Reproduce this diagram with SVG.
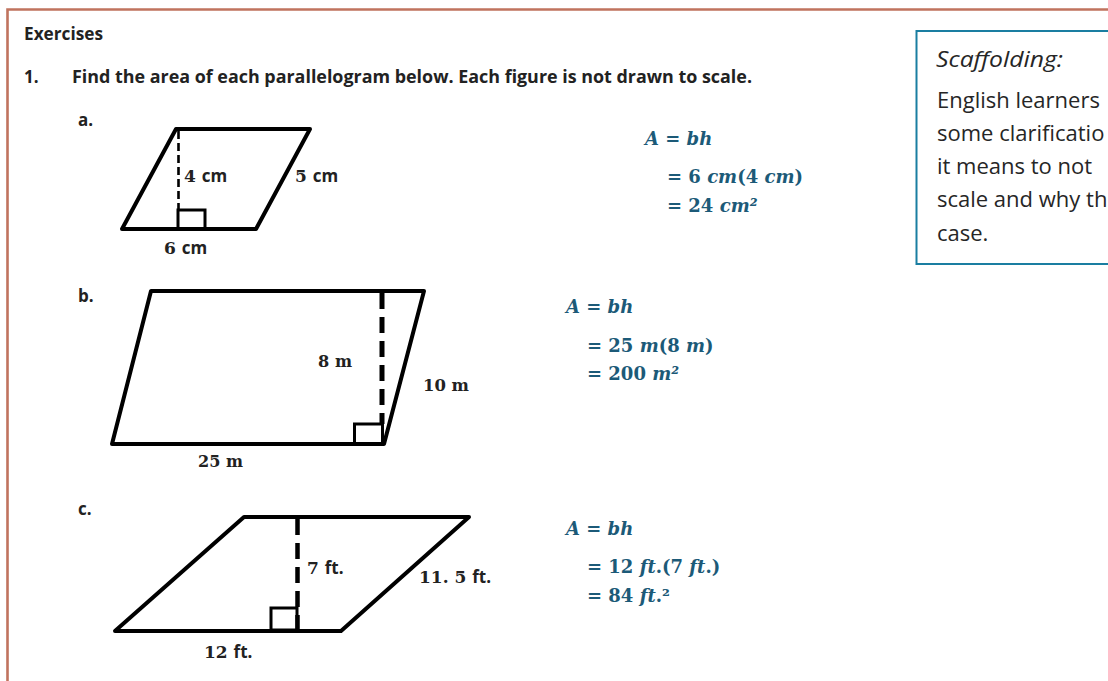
<svg xmlns="http://www.w3.org/2000/svg" width="1108" height="681" viewBox="0 0 1108 681">
<style>
.hd{font-family:"Open Sans","Liberation Sans",sans-serif;font-weight:bold;font-size:17px;fill:#222}
.lbl{font-family:"DejaVu Serif",serif;font-weight:bold;font-size:17px;fill:#222}
.u{font-family:"Open Sans","Liberation Sans",sans-serif}
.m{font-family:"DejaVu Serif",serif;font-weight:bold;font-size:18px;fill:#1c5a78}
.v{font-style:italic}
.sc{font-family:"Open Sans","Liberation Sans",sans-serif;font-size:22px;fill:#262626}
.shape{fill:none;stroke:#000;stroke-width:4;stroke-linejoin:round;stroke-linecap:round}
.sq{fill:none;stroke:#000;stroke-width:3}
</style>
<rect width="1108" height="681" fill="#fff"/>
<g id="frame">
<path d="M7.5,690 V9.5 H1120" fill="none" stroke="#c0735e" stroke-width="2.6"/>
</g>
<g id="header">
<text class="hd" x="24" y="40" textLength="79" lengthAdjust="spacingAndGlyphs">Exercises</text>
<text class="hd" x="24" y="83">1.</text>
<text class="hd" x="72" y="83" textLength="680" lengthAdjust="spacingAndGlyphs">Find the area of each parallelogram below.  Each figure is not drawn to scale.</text>
</g>
<g id="scaffolding">
<rect x="916.5" y="31" width="220" height="233" fill="none" stroke="#1a7ea1" stroke-width="2"/>
<text class="sc" x="936" y="67" font-style="italic" textLength="127" lengthAdjust="spacingAndGlyphs">Scaffolding:</text>
<text class="sc" x="937" y="108">English learners</text>
<text class="sc" x="937" y="141">some clarificatio</text>
<text class="sc" x="937" y="174">it means to not</text>
<text class="sc" x="937" y="207">scale and why th</text>
<text class="sc" x="937" y="241">case.</text>
</g>
<g id="fig-a">
<text class="hd" x="78" y="126">a.</text>
<polygon class="shape" points="176,129 310,129 256,229 122,229"/>
<line x1="178.5" y1="131" x2="178.5" y2="209" stroke="#000" stroke-width="2.6" stroke-dasharray="8,4"/>
<rect class="sq" x="178" y="210" width="27" height="19"/>
<text class="lbl" x="184" y="182">4 <tspan class="u">cm</tspan></text>
<text class="lbl" x="295" y="182">5 <tspan class="u">cm</tspan></text>
<text class="lbl" x="164" y="254">6 <tspan class="u">cm</tspan></text>
</g>
<g id="eq-a">
<text class="m" x="645" y="145"><tspan class="v">A</tspan> = <tspan class="v">bh</tspan></text>
<text class="m" x="667" y="183">= 6 <tspan class="v">cm</tspan>(4 <tspan class="v">cm</tspan>)</text>
<text class="m" x="667" y="212">= 24 <tspan class="v">cm²</tspan></text>
</g>
<g id="fig-b">
<text class="hd" x="78" y="302">b.</text>
<polygon class="shape" points="151,291 424,291 384,444 112,444"/>
<line x1="382" y1="293" x2="382" y2="424" stroke="#000" stroke-width="5" stroke-dasharray="16,8"/>
<rect class="sq" x="354.5" y="424" width="28" height="20"/>
<text class="lbl" x="318" y="367" textLength="34" lengthAdjust="spacingAndGlyphs">8 m</text>
<text class="lbl" x="423" y="391" textLength="46" lengthAdjust="spacingAndGlyphs">10 m</text>
<text class="lbl" x="198" y="467" textLength="45" lengthAdjust="spacingAndGlyphs">25 m</text>
</g>
<g id="eq-b">
<text class="m" x="566" y="313"><tspan class="v">A</tspan> = <tspan class="v">bh</tspan></text>
<text class="m" x="587" y="352">= 25 <tspan class="v">m</tspan>(8 <tspan class="v">m</tspan>)</text>
<text class="m" x="587" y="380">= 200 <tspan class="v">m²</tspan></text>
</g>
<g id="fig-c">
<text class="hd" x="78" y="515">c.</text>
<polygon class="shape" points="244,517 469,517 341,631 115,631"/>
<line x1="297.5" y1="519" x2="297.5" y2="631" stroke="#000" stroke-width="4.5" stroke-dasharray="16,8"/>
<rect class="sq" x="271" y="608" width="26" height="22"/>
<text class="lbl" x="307" y="574">7 <tspan class="u">ft.</tspan></text>
<text class="lbl" x="419" y="583">11. 5 <tspan class="u">ft.</tspan></text>
<text class="lbl" x="204" y="658">12 <tspan class="u">ft.</tspan></text>
</g>
<g id="eq-c">
<text class="m" x="566" y="535"><tspan class="v">A</tspan> = <tspan class="v">bh</tspan></text>
<text class="m" x="587" y="573">= 12 <tspan class="v">ft</tspan>.(7 <tspan class="v">ft</tspan>.)</text>
<text class="m" x="587" y="602">= 84 <tspan class="v">ft</tspan>.²</text>
</g>
</svg>
